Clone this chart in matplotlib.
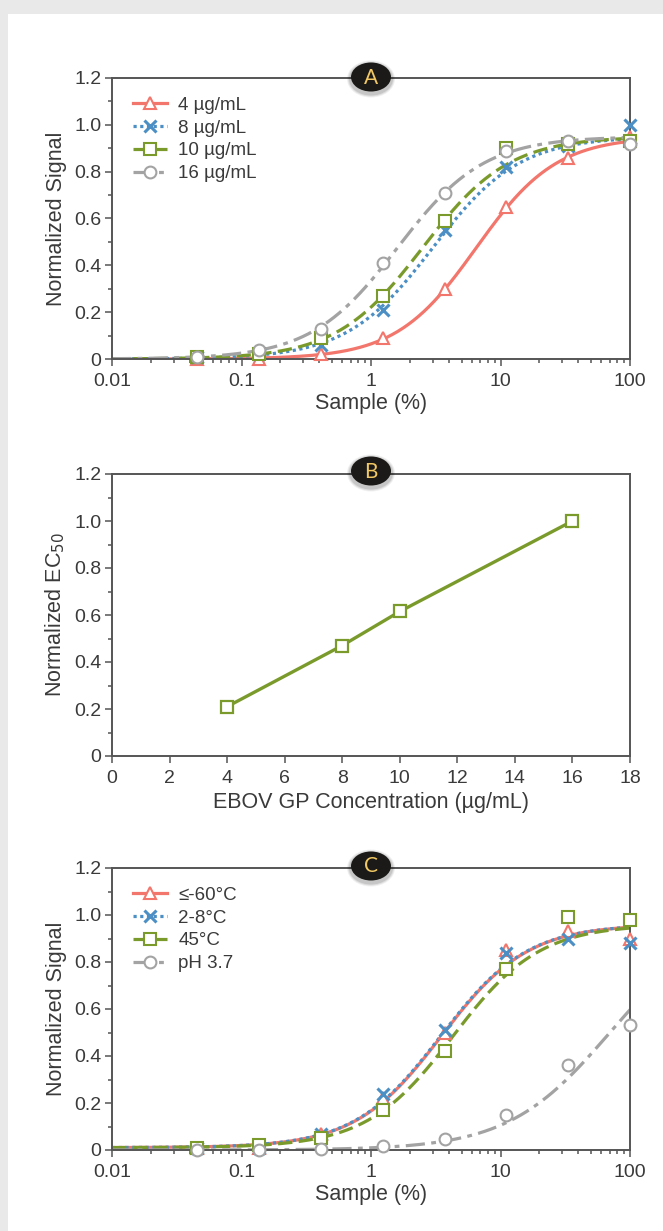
import numpy as np
import matplotlib
matplotlib.use('Agg')
import matplotlib.pyplot as plt
import matplotlib.ticker as ticker
from matplotlib.lines import Line2D
from matplotlib.patches import Rectangle, Ellipse

plt.rcParams['font.family'] = ['Liberation Sans', 'DejaVu Sans']

# sample dilutions (%), shared by panels A and C
sample = [0.0457, 0.137, 0.412, 1.23, 3.70, 11.1, 33.3, 100]

# PANEL A - normalized signal per GP coating concentration
a_labels = ['4 µg/mL', '8 µg/mL', '10 µg/mL', '16 µg/mL']
a_4 = [0.00, 0.00, 0.02, 0.09, 0.30, 0.65, 0.86, 0.95]
a_8 = [0.01, 0.02, 0.06, 0.21, 0.55, 0.82, 0.91, 1.00]
a_10 = [0.01, 0.02, 0.09, 0.27, 0.59, 0.90, 0.92, 0.93]
a_16 = [0.01, 0.04, 0.13, 0.41, 0.71, 0.89, 0.93, 0.92]
# 4PL fit parameters: bottom, top, EC50, hill
a_fit_bottom = [0.0, 0.0, 0.0, 0.0]
a_fit_top = [0.95, 0.95, 0.95, 0.95]
a_fit_ec50 = [6.5, 3.0, 2.5, 1.6]
a_fit_hill = [1.4, 1.3, 1.3, 1.3]

# PANEL B - normalized EC50 vs GP concentration
b_conc = [4, 8, 10, 16]
b_ec50 = [0.21, 0.47, 0.615, 1.0]

# PANEL C - stability conditions
c_labels = ['≤-60°C', '2-8°C', '45°C', 'pH 3.7']
c_cold = [0.01, 0.01, 0.07, 0.22, 0.50, 0.85, 0.93, 0.90]
c_fridge = [0.01, 0.01, 0.07, 0.24, 0.51, 0.84, 0.90, 0.88]
c_hot = [0.01, 0.02, 0.05, 0.17, 0.42, 0.77, 0.99, 0.98]
c_acid = [0.00, 0.00, 0.005, 0.015, 0.045, 0.15, 0.36, 0.53]
c_fit_bottom = [0.01, 0.01, 0.01, 0.0]
c_fit_top = [0.96, 0.96, 0.96, 1.0]
c_fit_ec50 = [3.5, 3.45, 4.3, 70.0]
c_fit_hill = [1.3, 1.3, 1.3, 1.1]

RED = '#f2766c'
BLUE = '#4b8fc4'
GREEN = '#7a9b2c'
GRAY = '#a3a3a3'
TEXT = '#3a3a3a'
SPINE = '#555555'

colors = [RED, BLUE, GREEN, GRAY]
markers = ['^', 'x', 's', 'o']
styles = ['-', (0, (1, 1.1)), (0, (4.5, 2)), (0, (6, 2, 1.5, 2))]

W, H = 663, 1231


def four_pl(x, bottom, top, ec50, hill):
    return bottom + (top - bottom) / (1 + (ec50 / x) ** hill)


def style_axes(ax):
    for s in ax.spines.values():
        s.set_color(SPINE)
        s.set_linewidth(1.4)
    ax.tick_params(which='both', direction='out', color=SPINE, width=1.1,
                   labelcolor=TEXT, labelsize=14, top=False, right=False)
    ax.tick_params(which='major', length=5)
    ax.tick_params(which='minor', length=3)
    ax.tick_params(axis='x', which='both', pad=5)
    ax.tick_params(axis='y', which='both', pad=2.5)
    ax.set_ylim(0, 1.2)
    ax.yaxis.set_major_locator(ticker.MultipleLocator(0.2))
    ax.yaxis.set_minor_locator(ticker.MultipleLocator(0.1))
    ax.yaxis.set_major_formatter(ticker.FuncFormatter(
        lambda v, p: '0' if abs(v) < 1e-9 else '{:.1f}'.format(v)))


def badge(fig, y_px, letter):
    cx, cy = 371 / W, 1 - y_px / H
    for k, a in [(4, 0.06), (3, 0.08), (2, 0.1)]:
        fig.patches.append(Ellipse((cx, cy - 2 / H), (40 + k * 2) / W, (29 + k * 2) / H,
                                   transform=fig.transFigure, fc='black', ec='none',
                                   alpha=a, zorder=5))
    fig.patches.append(Ellipse((cx, cy), 40 / W, 29 / H, transform=fig.transFigure,
                               fc='#1b1a18', ec='none', zorder=6))
    fig.text(cx, cy - 0.5 / H, letter, ha='center', va='center', color='#f1c863',
             fontsize=15, family=['Lato', 'DejaVu Sans'], zorder=7)


def dose_panel(ax, series, labels, bottoms, tops, ec50s, hills):
    xs = np.logspace(-2, 2, 400)
    handles = []
    for i, ys in enumerate(series):
        c = colors[i]
        ax.plot(xs, four_pl(xs, bottoms[i], tops[i], ec50s[i], hills[i]),
                color=c, ls=styles[i], lw=2.3, zorder=2)
        if markers[i] == 'x':
            ax.plot(sample, ys, 'x', color=c, ms=9, mew=2.2, zorder=3, clip_on=False)
        else:
            ax.plot(sample, ys, markers[i], color=c, mfc='white', ms=8.5, mew=1.5,
                    zorder=3, clip_on=False)
        handles.append(Line2D([], [], color=c, ls=styles[i], lw=2.3, marker=markers[i],
                              mfc='white', ms=8.5, mew=1.5 if markers[i] != 'x' else 2.2,
                              label=labels[i]))
    ax.set_xscale('log')
    ax.set_xlim(0.01, 100)
    ax.xaxis.set_major_formatter(ticker.FuncFormatter(lambda v, p: '{:g}'.format(v)))
    ax.xaxis.set_minor_locator(ticker.LogLocator(base=10, subs=np.arange(2, 10)))
    ax.xaxis.set_minor_formatter(ticker.NullFormatter())
    style_axes(ax)
    ax.set_xlabel('Sample (%)', fontsize=15.5, color=TEXT, labelpad=2)
    ax.set_ylabel('Normalized Signal', fontsize=15.5, color=TEXT, labelpad=5)
    ax.legend(handles=handles, loc='upper left', frameon=False, fontsize=13.5,
              handlelength=1.8, handletextpad=0.6, labelspacing=0.3,
              bbox_to_anchor=(0.027, 0.96), borderaxespad=0, labelcolor=TEXT)


fig = plt.figure(figsize=(W / 100, H / 100), dpi=100, facecolor='#e9e9e9')
fig.patches.append(Rectangle((10 / W, 0), 1, 1 - 16 / H, transform=fig.transFigure,
                             fc='#dcdcdc', ec='none', zorder=-2))
fig.patches.append(Rectangle((8 / W, 0), 1, 1 - 14 / H, transform=fig.transFigure,
                             fc='white', ec='none', zorder=-1))

left = 112 / W
width = (630 - 112) / W
ax_a = fig.add_axes([left, 1 - 359 / H, width, (359 - 78) / H])
ax_b = fig.add_axes([left, 1 - 756 / H, width, (756 - 474) / H])
ax_c = fig.add_axes([left, 1 - 1150 / H, width, (1150 - 868) / H])

# A
dose_panel(ax_a, [a_4, a_8, a_10, a_16], a_labels,
           a_fit_bottom, a_fit_top, a_fit_ec50, a_fit_hill)
badge(fig, 77, 'A')

# B
ax_b.plot(b_conc, b_ec50, color=GREEN, lw=2.4, marker='s', mfc='white', ms=9, mew=1.6)
ax_b.set_xlim(0, 18)
ax_b.xaxis.set_major_locator(ticker.MultipleLocator(2))
style_axes(ax_b)
ax_b.set_xlabel('EBOV GP Concentration (µg/mL)', fontsize=15.5, color=TEXT, labelpad=4)
ax_b.set_ylabel('Normalized EC$_{50}$', fontsize=15.5, color=TEXT, labelpad=5)
badge(fig, 471, 'B')

# C
dose_panel(ax_c, [c_cold, c_fridge, c_hot, c_acid], c_labels,
           c_fit_bottom, c_fit_top, c_fit_ec50, c_fit_hill)
badge(fig, 866, 'C')

fig.savefig('out.png', dpi=100, facecolor=fig.get_facecolor())
